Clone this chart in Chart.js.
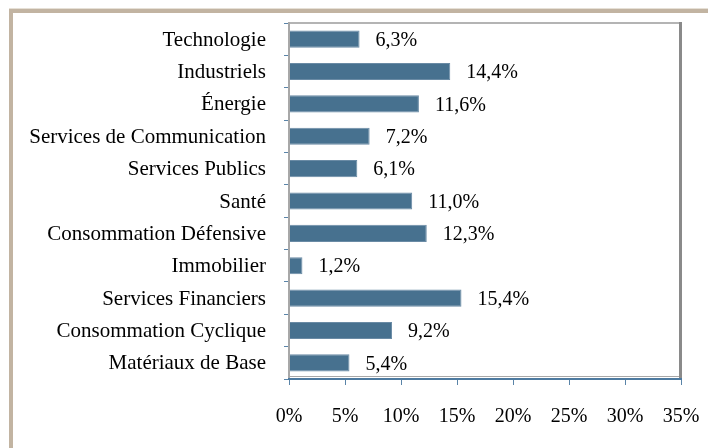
<!DOCTYPE html>
<html>
<head>
<meta charset="utf-8">
<script src="https://cdn.jsdelivr.net/npm/chart.js@4"></script>
<style>
html,body{margin:0;padding:0;background:#fff;}
#wrap{position:relative;width:708px;height:448px;}
</style>
</head>
<body>
<div id="wrap"><canvas id="c" width="708" height="448"></canvas></div>
<script>
const categories = ["Technologie","Industriels","Énergie","Services de Communication","Services Publics","Santé","Consommation Défensive","Immobilier","Services Financiers","Consommation Cyclique","Matériaux de Base"];
const weights = [6.3,14.4,11.6,7.2,6.1,11.0,12.3,1.2,15.4,9.2,5.4];
const valueLabels = ["6,3%","14,4%","11,6%","7,2%","6,1%","11,0%","12,3%","1,2%","15,4%","9,2%","5,4%"];
const xTickLabels = ["0%","5%","10%","15%","20%","25%","30%","35%"];

const FONT = "'Liberation Serif', 'Times New Roman', serif";

const framePlugin = {
  id: 'frame',
  beforeDraw(chart) {
    const ctx = chart.ctx;
    ctx.save();
    ctx.fillStyle = '#fff';
    ctx.fillRect(0, 0, chart.width, chart.height);
    ctx.fillStyle = '#e6e0d6';
    ctx.fillRect(9, 8, chart.width - 9, 1);
    ctx.fillStyle = '#c2b4a2';
    ctx.fillRect(9, 9, chart.width - 9, 4);
    ctx.fillRect(9, 9, 4, chart.height - 9);
    ctx.restore();
  },
  afterDatasetsDraw(chart) {
    const ctx = chart.ctx;
    const a = chart.chartArea;
    ctx.save();
    ctx.fillStyle = '#b4b4b4';
    ctx.fillRect(a.left, a.top - 1, a.right - a.left, 2);
    ctx.fillStyle = '#a8a8a8';
    ctx.fillRect(a.left, a.bottom - 3, a.right - a.left, 1);
    ctx.fillRect(a.left - 1, a.top - 1, 2, a.bottom - a.top);
    ctx.fillStyle = '#8a8a8a';
    ctx.fillRect(a.right - 2, a.top - 1, 3, a.bottom - a.top);
    // value labels
    const meta = chart.getDatasetMeta(0);
    ctx.fillStyle = '#000';
    ctx.font = '20px ' + FONT;
    ctx.textAlign = 'left';
    ctx.textBaseline = 'middle';
    meta.data.forEach((bar, i) => {
      ctx.fillText(valueLabels[i], bar.x + 16, bar.y + 1.5);
    });
    ctx.restore();
  }
};

new Chart(document.getElementById('c'), {
  type: 'bar',
  data: {
    labels: categories,
    datasets: [{
      data: weights,
      backgroundColor: '#47718f',
      borderColor: '#6a8ba5',
      borderWidth: 1,
      barPercentage: 0.53,
      categoryPercentage: 1.0
    }]
  },
  options: {
    indexAxis: 'y',
    responsive: false,
    animation: false,
    devicePixelRatio: 1,
    layout: { padding: { left: 0, top: 23, right: 27, bottom: 0 } },
    plugins: { legend: { display: false }, tooltip: { enabled: false } },
    scales: {
      y: {
        type: 'category',
        offset: true,
        grid: { display: true, drawOnChartArea: false, offset: true, tickLength: 5, color: '#5a84a8', lineWidth: 1 },
        border: { display: false },
        ticks: { color: '#000', font: { family: FONT, size: 21 }, padding: 18, labelOffset: 1, autoSkip: false },
        afterFit(scale) { scale.width = 289; scale.paddingTop = 0; scale.paddingBottom = 0; }
      },
      x: {
        min: 0, max: 35,
        grid: { display: true, drawOnChartArea: false, tickLength: 6, color: '#5a84a8', lineWidth: 1 },
        border: { display: true, color: '#4d7aa0', width: 2 },
        ticks: {
          stepSize: 5,
          color: '#000',
          font: { family: FONT, size: 20 },
          padding: 20,
          maxRotation: 0,
          callback: (v, i) => xTickLabels[i]
        },
        afterFit(scale) { scale.height = 69; scale.paddingLeft = 0; scale.paddingRight = 0; }
      }
    }
  },
  plugins: [framePlugin]
});
</script>
</body>
</html>
